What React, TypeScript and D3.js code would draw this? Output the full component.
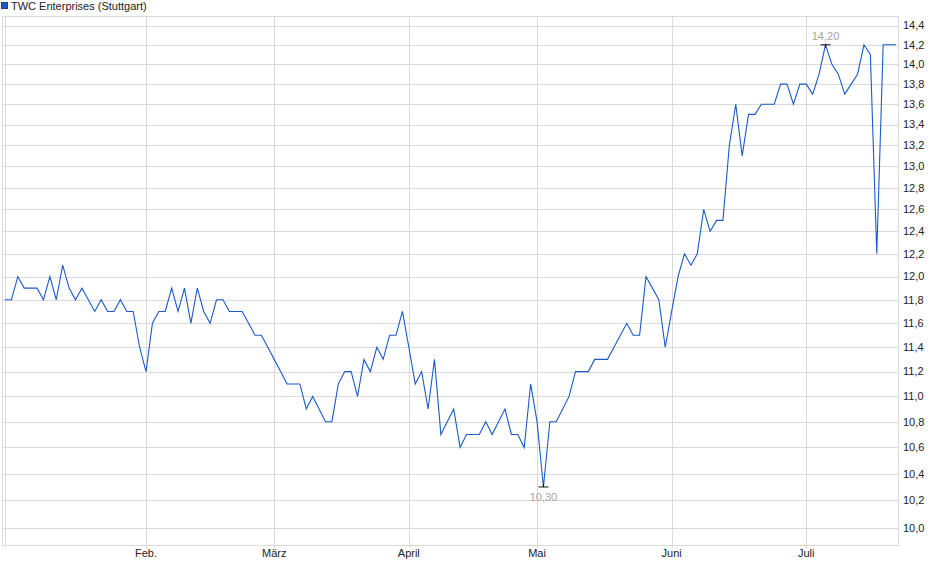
import React from 'react';
import * as d3 from 'd3';

// closing prices, one per trading day (Stuttgart)
const prices: number[] = [
  11.8, 11.8, 12.0, 11.9, 11.9, 11.9, 11.8, 12.0, 11.8, 12.1,
  11.9, 11.8, 11.9, 11.8, 11.7, 11.8, 11.7, 11.7, 11.8, 11.7,
  11.7, 11.4, 11.2, 11.6, 11.7, 11.7, 11.9, 11.7, 11.9, 11.6,
  11.9, 11.7, 11.6, 11.8, 11.8, 11.7, 11.7, 11.7, 11.6, 11.5,
  11.5, 11.4, 11.3, 11.2, 11.1, 11.1, 11.1, 10.9, 11.0, 10.9,
  10.8, 10.8, 11.1, 11.2, 11.2, 11.0, 11.3, 11.2, 11.4, 11.3,
  11.5, 11.5, 11.7, 11.4, 11.1, 11.2, 10.9, 11.3, 10.7, 10.8,
  10.9, 10.6, 10.7, 10.7, 10.7, 10.8, 10.7, 10.8, 10.9, 10.7,
  10.7, 10.6, 11.1, 10.8, 10.3, 10.8, 10.8, 10.9, 11.0, 11.2,
  11.2, 11.2, 11.3, 11.3, 11.3, 11.4, 11.5, 11.6, 11.5, 11.5,
  12.0, 11.9, 11.8, 11.4, 11.7, 12.0, 12.2, 12.1, 12.2, 12.6,
  12.4, 12.5, 12.5, 13.2, 13.6, 13.1, 13.5, 13.5, 13.6, 13.6,
  13.6, 13.8, 13.8, 13.6, 13.8, 13.8, 13.7, 13.9, 14.2, 14.0,
  13.9, 13.7, 13.8, 13.9, 14.2, 14.1, 12.2, 14.2, 14.2, 14.2,
];

// index of the first trading day of each month
const monthStarts: number[] = [0, 22, 42, 63, 83, 104, 125];
const monthLabels: string[] = ['', 'Feb.', 'März', 'April', 'Mai', 'Juni', 'Juli'];

const yTicks: number[] = d3.range(0, 23).map((i) => +(10 + i * 0.2).toFixed(1));

const title = 'TWC Enterprises (Stuttgart)';

const App = () => {
  const width = 940;
  const height = 579;
  const left = 3;
  const right = 898;
  const top = 16;
  const bottom = 545;
  const lineColor = '#1c5bc6';
  const gridColor = '#dadada';
  const labelColor = '#a8a49e';
  const font = '"Liberation Sans", Arial, sans-serif';

  const x = d3.scaleLinear().domain([0, prices.length - 1]).range([5, 896]);
  const y = d3.scaleLog().domain([9.875, 14.5]).range([bottom, top]);

  const line = d3
    .line<number>()
    .x((_, i) => x(i))
    .y((d) => y(d));

  const fmt = (v: number, digits: number) => v.toFixed(digits).replace('.', ',');

  const maxIdx = d3.maxIndex(prices);
  const minIdx = d3.minIndex(prices);

  return (
    <svg
      width={width}
      height={height}
      style={{ position: 'absolute', left: 0, top: 0, background: '#fff' }}
      fontFamily={font}
    >
      {/* legend */}
      <rect x={1.5} y={2.5} width={6} height={6} fill={lineColor} stroke="#1a3f8a" />
      <text x={11} y={10} fontSize={11} fill="#222">
        {title}
      </text>

      {/* horizontal grid + y labels */}
      {yTicks.map((t) => (
        <g key={t}>
          <line x1={left} x2={right} y1={Math.round(y(t)) + 0.5} y2={Math.round(y(t)) + 0.5} stroke={gridColor} />
          <text x={903} y={y(t)} dy="0.35em" fontSize={11} fill="#222">
            {fmt(t, 1)}
          </text>
        </g>
      ))}

      {/* vertical grid + month labels */}
      {monthStarts.map((m, i) => (
        <g key={m}>
          <line
            x1={Math.round(x(m)) + 0.5}
            x2={Math.round(x(m)) + 0.5}
            y1={top}
            y2={bottom + 3}
            stroke={gridColor}
          />
          <text x={x(m)} y={557} textAnchor="middle" fontSize={11} fill="#222">
            {monthLabels[i]}
          </text>
        </g>
      ))}

      {/* plot frame */}
      <rect x={left - 0.5} y={top + 0.5} width={right - left + 1} height={bottom - top} fill="none" stroke={gridColor} />

      {/* price line */}
      <path d={line(prices) ?? ''} fill="none" stroke={lineColor} strokeWidth={1.1} />

      {/* max marker */}
      <line x1={x(maxIdx) - 5} x2={x(maxIdx) + 5} y1={y(prices[maxIdx])} y2={y(prices[maxIdx])} stroke="#111" />
      <line x1={x(maxIdx)} x2={x(maxIdx)} y1={y(prices[maxIdx])} y2={y(prices[maxIdx]) + 3} stroke="#111" />
      <text x={x(maxIdx)} y={y(prices[maxIdx]) - 5} textAnchor="middle" fontSize={11} fill={labelColor}>
        {fmt(prices[maxIdx], 2)}
      </text>

      {/* min marker */}
      <line x1={x(minIdx) - 5} x2={x(minIdx) + 5} y1={y(prices[minIdx])} y2={y(prices[minIdx])} stroke="#111" />
      <line x1={x(minIdx)} x2={x(minIdx)} y1={y(prices[minIdx])} y2={y(prices[minIdx]) - 3} stroke="#111" />
      <text x={x(minIdx)} y={y(prices[minIdx]) + 14} textAnchor="middle" fontSize={11} fill={labelColor}>
        {fmt(prices[minIdx], 2)}
      </text>
    </svg>
  );
};

export default App;
